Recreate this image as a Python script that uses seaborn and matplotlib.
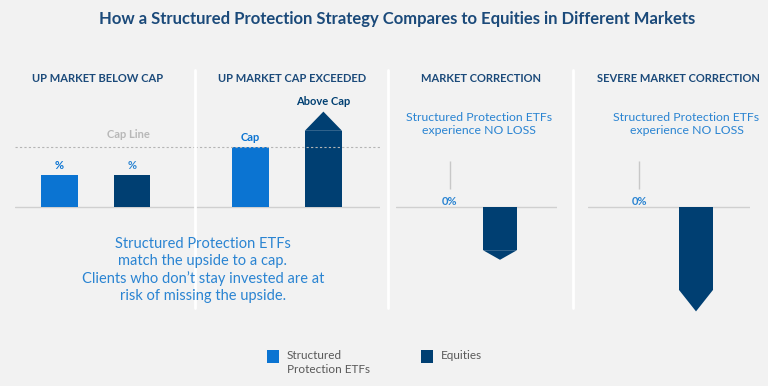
import numpy as np
import pandas as pd
import matplotlib.pyplot as plt
from matplotlib.patches import Polygon, Rectangle
from matplotlib.lines import Line2D
import seaborn as sns

# Data (values in % with the cap set to 10)
panel_titles = ["UP MARKET BELOW CAP", "UP MARKET CAP EXCEEDED",
                "MARKET CORRECTION", "SEVERE MARKET CORRECTION"]
series = ["Structured Protection ETFs", "Equities"]
etf_values = [5.3, 10.0, 0.0, 0.0]
equity_values = [5.3, 12.7, -7.2, -13.8]
equity_tips = [None, 15.9, -8.8, -17.4]
etf_labels = ["%", "Cap", "0%", "0%"]
equity_labels = ["%", "Above Cap", "", ""]
cap_level = 10.0

bg = "#f2f2f2"
colors = {"Structured Protection ETFs": "#0b74d2", "Equities": "#003f72"}
title_col = "#1b4a7a"
light_blue = "#2a84d2"

sns.set_theme(style="white")
plt.rcParams["font.family"] = ["Lato", "DejaVu Sans"]

W, H = 768, 386
fig = plt.figure(figsize=(W / 100, H / 100), dpi=100, facecolor=bg)


def px_rect(x0, x1, y0=60, y1=320):
    return [x0 / W, 1 - y1 / H, (x1 - x0) / W, (y1 - y0) / H]


# panel layout: axes x extent (px), px per category, px of category 0, bar width
layout = [(15, 195, 72.5, 59.5, 0.51),
          (195, 380, 73.0, 250.4, 0.51),
          (396, 557, 50.0, 450.0, 0.68),
          (588, 750, 57.0, 639.0, 0.60)]
title_x = [97.5, 291.7, 481, 678]
ylim = (-(320 - 207) / 6, (207 - 60) / 6)

for i, (x0, x1, unit, c0, w) in enumerate(layout):
    ax = fig.add_axes(px_rect(x0, x1))
    df = pd.DataFrame({"series": series, "value": [etf_values[i], equity_values[i]]})
    sns.barplot(data=df, x="series", y="value", hue="series", palette=colors,
                width=w, saturation=1, linewidth=0, legend=False, ax=ax)
    ax.set_xlim((x0 - c0) / unit, (x1 - c0) / unit)
    ax.set_ylim(*ylim)
    ax.axis("off")
    ax.axhline(0, color="#d0d0d0", lw=1, zorder=0)

    # arrow head on the equities bar
    eq = ax.containers[1][0]
    bx, bw = eq.get_x(), eq.get_width()
    top = equity_values[i]
    if equity_tips[i] is not None:
        tip = equity_tips[i]
        ax.add_patch(Polygon([(bx, top), (bx + bw, top), (bx + bw / 2, tip)],
                             closed=True, color=colors["Equities"], lw=0))
        top = tip

    if i < 2:
        ax.axhline(cap_level, color="#b5b5b5", lw=0.8, ls=(0, (2, 2)), zorder=5)
    if i == 0:
        ax.annotate("Cap Line", ((128 - c0) / unit, cap_level), xytext=(0, 5),
                    textcoords="offset points", ha="center", va="bottom",
                    fontsize=8, fontweight="bold", color="#b8b8b8")

    if etf_values[i] == 0:
        ax.vlines(0, 3.0, 7.6, color="#c8c8c8", lw=1)
        ax.annotate(etf_labels[i], (0, 0), xytext=(0, 4.3), textcoords="offset points",
                    ha="center", va="center", fontsize=8, fontweight="bold",
                    color=light_blue)
        ax.text(((478.7, 686.5)[i - 2] - c0) / unit, (207 - 124) / 6,
                "Structured Protection ETFs\nexperience NO LOSS",
                ha="center", va="center", fontsize=8.8, color=light_blue,
                linespacing=1.25)
    else:
        ax.annotate(etf_labels[i], (0, etf_values[i]), xytext=(0, 7),
                    textcoords="offset points", ha="center", va="center",
                    fontsize=8, fontweight="bold", color=colors["Structured Protection ETFs"])
        lab_col = light_blue if i == 0 else colors["Equities"]
        ax.annotate(equity_labels[i], (1, top), xytext=(0, 7),
                    textcoords="offset points", ha="center", va="center",
                    fontsize=8, fontweight="bold", color=lab_col)

    fig.text(title_x[i] / W, 1 - 78 / H, panel_titles[i], ha="center", va="center",
             fontsize=8, fontweight="bold", color=title_col)

# separators
for sx in [195, 388, 573]:
    fig.add_artist(Line2D([sx / W, sx / W], [1 - 70 / H, 1 - 308 / H],
                          transform=fig.transFigure, color="white", lw=2))

fig.text(397 / W, 1 - 19 / H,
         "How a Structured Protection Strategy Compares to Equities in Different Markets",
         ha="center", va="center", fontsize=12, fontweight="bold", color=title_col)

fig.text(203 / W, 1 - 270 / H,
         "Structured Protection ETFs\nmatch the upside to a cap.\n"
         "Clients who don\u2019t stay invested are at\nrisk of missing the upside.",
         ha="center", va="center", fontsize=10.5, color=light_blue, linespacing=1.24)

# legend
leg_items = [(266.7, "Structured\nProtection ETFs", series[0]),
             (420.7, "Equities", series[1])]
for lx, txt, key in leg_items:
    fig.add_artist(Rectangle((lx / W, 1 - 363 / H), 12.5 / W, 13 / H,
                             transform=fig.transFigure, color=colors[key], lw=0))
    fig.text((lx + 20) / W, 1 - 350 / H, txt, ha="left", va="top",
             fontsize=8.5, color="#595959", linespacing=1.3)

fig.savefig("out.png", dpi=100, facecolor=bg)
